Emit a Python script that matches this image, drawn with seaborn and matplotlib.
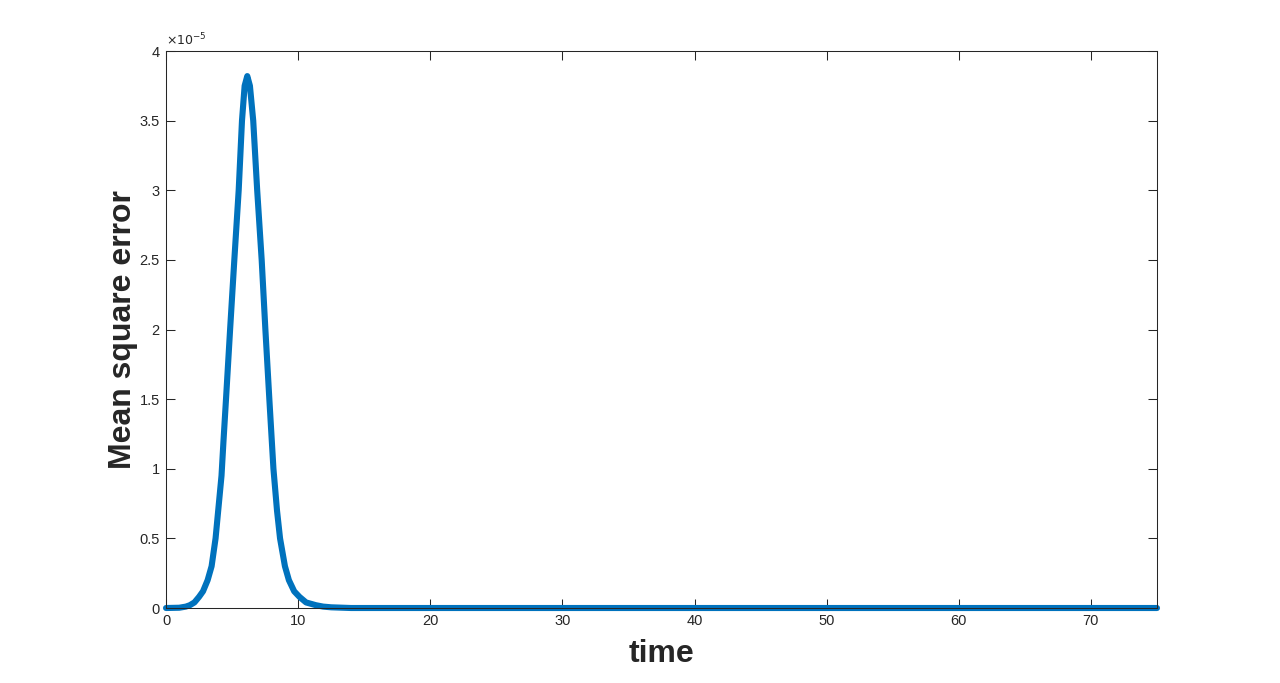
import pandas as pd
import matplotlib
matplotlib.use("Agg")
import matplotlib.pyplot as plt
import seaborn as sns
from matplotlib.ticker import FuncFormatter

# values (mse in units of 1e-5)
time = [0, 1.0, 1.5, 1.8, 2.15, 2.5, 2.8, 3.15, 3.45, 3.75, 3.95, 4.2,
        4.35, 4.54, 4.85, 5.17, 5.5, 5.75, 5.95, 6.15, 6.35, 6.6, 6.9,
        7.24, 7.52, 7.82, 8.13, 8.4, 8.63, 9.0, 9.3, 9.7, 10.1, 10.6,
        11.35, 11.9, 12.5, 14, 20, 30, 40, 50, 60, 70, 75]
mse_e5 = [0, 0.002, 0.01, 0.02, 0.04, 0.08, 0.12, 0.2, 0.3, 0.5, 0.7, 0.95,
          1.2, 1.5, 2.0, 2.5, 3.0, 3.5, 3.75, 3.82, 3.75, 3.5, 3.0,
          2.5, 2.0, 1.5, 1.0, 0.7, 0.5, 0.3, 0.2, 0.12, 0.08, 0.04,
          0.02, 0.01, 0.005, 0.0, 0, 0, 0, 0, 0, 0, 0]

df = pd.DataFrame({"time": time, "mse": [v * 1e-5 for v in mse_e5]})

sns.set_theme(style="white")
plt.rcParams["font.family"] = ["Liberation Sans", "DejaVu Sans"]
ink = "#262626"

fig = plt.figure(figsize=(12.8, 6.83), dpi=100)
ax = fig.add_axes([0.1297, 0.1098, 0.9039 - 0.1297, 0.9253 - 0.1098])

sns.lineplot(data=df, x="time", y="mse", ax=ax, color="#0072BD",
             linewidth=4.4, clip_on=False)

ax.set_xlim(0, 75)
ax.set_ylim(0, 4e-5)
ax.set_xticks(range(0, 71, 10))
ax.set_yticks([i * 0.5e-5 for i in range(9)])
ax.yaxis.set_major_formatter(FuncFormatter(lambda y, p: f"{y * 1e5:g}"))

ax.tick_params(direction="in", length=6.5, width=0.75, colors=ink,
               labelsize=10.5, top=True, right=True, bottom=True, left=True,
               labeltop=False, labelright=False, pad=4.5)
for s in ax.spines.values():
    s.set_color(ink)
    s.set_linewidth(0.75)

ax.set_xlabel("time", fontsize=23, fontweight="bold", color=ink, labelpad=8)
ax.set_ylabel("Mean square error", fontsize=23, fontweight="bold", color=ink,
              labelpad=1)
ax.text(0.0, 1.004, r"$\times10^{-5}$", transform=ax.transAxes, fontsize=9,
        color=ink, ha="left", va="bottom")

fig.savefig("out.png", dpi=100)
